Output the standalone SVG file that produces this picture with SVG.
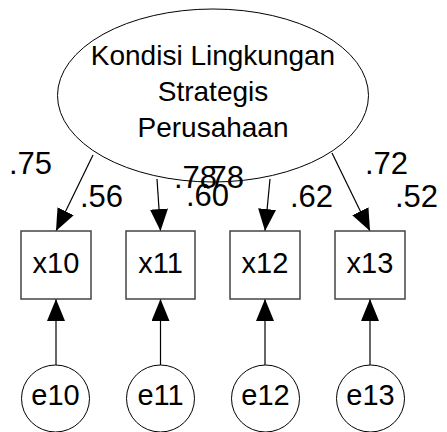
<svg xmlns="http://www.w3.org/2000/svg" width="447" height="432" viewBox="0 0 447 432">
  <defs>
    <marker id="arrow" markerUnits="userSpaceOnUse" markerWidth="22" markerHeight="18" refX="22" refY="9" orient="auto">
      <path d="M0,0 L22,9 L0,18 z" fill="#000"/>
    </marker>
    <style>
      text { font-family: "Liberation Sans", Arial, sans-serif; fill: #000; }
      .latent { fill: #fff; stroke: #000; stroke-width: 1; }
      .box { fill: #fff; stroke: #444; stroke-width: 1.5; }
      .err { fill: #fff; stroke: #000; stroke-width: 1; }
      .name { font-size: 28px; text-anchor: middle; }
      .vname { font-size: 29px; text-anchor: middle; }
      .coef { font-size: 31px; }
      .conn line { stroke: #000; stroke-width: 1.2; marker-end: url(#arrow); }
    </style>
  </defs>

  <rect width="447" height="432" fill="#fff"/>

  <!-- paths from latent factor and error terms -->
  <g id="connectors" class="conn">
    <line x1="93" y1="155" x2="56" y2="231"/>
    <line x1="157" y1="179" x2="160.5" y2="231"/>
    <line x1="270" y1="179" x2="265" y2="231"/>
    <line x1="332" y1="153" x2="370" y2="231"/>
    <line x1="56" y1="365" x2="56" y2="299"/>
    <line x1="160.5" y1="365" x2="160.5" y2="299"/>
    <line x1="265" y1="365" x2="265" y2="299"/>
    <line x1="370" y1="365" x2="370" y2="299"/>
  </g>

  <!-- latent factor -->
  <g id="kondisi">
    <ellipse class="latent" cx="213" cy="95.5" rx="155.5" ry="86.5"/>
    <text class="name" x="213" y="65">Kondisi Lingkungan</text>
    <text class="name" x="213" y="101">Strategis</text>
    <text class="name" x="213" y="137">Perusahaan</text>
  </g>

  <!-- observed indicators -->
  <g id="x10">
    <rect class="box" x="21" y="231" width="70" height="68"/>
    <text class="vname" x="56" y="273">x10</text>
  </g>
  <g id="x11">
    <rect class="box" x="126" y="231" width="69" height="68"/>
    <text class="vname" x="160.5" y="273">x11</text>
  </g>
  <g id="x12">
    <rect class="box" x="230" y="231" width="70" height="68"/>
    <text class="vname" x="265" y="273">x12</text>
  </g>
  <g id="x13">
    <rect class="box" x="335" y="231" width="70" height="68"/>
    <text class="vname" x="370" y="273">x13</text>
  </g>

  <!-- error terms -->
  <g id="e10">
    <ellipse class="err" cx="55.5" cy="398.5" rx="34" ry="33.5"/>
    <text class="vname" x="55.5" y="405">e10</text>
  </g>
  <g id="e11">
    <ellipse class="err" cx="160.5" cy="398.5" rx="34" ry="33.5"/>
    <text class="vname" x="160.5" y="405">e11</text>
  </g>
  <g id="e12">
    <ellipse class="err" cx="265.5" cy="398.5" rx="34" ry="33.5"/>
    <text class="vname" x="265.5" y="405">e12</text>
  </g>
  <g id="e13">
    <ellipse class="err" cx="370.5" cy="398.5" rx="34" ry="33.5"/>
    <text class="vname" x="370.5" y="405">e13</text>
  </g>

  <!-- standardized loadings and squared multiple correlations -->
  <g id="estimates">
    <text class="coef" x="9" y="174">.75</text>
    <text class="coef" x="80" y="207">.56</text>
    <text class="coef" x="174" y="188">.78</text>
    <text class="coef" x="201" y="188">.78</text>
    <text class="coef" x="186" y="206">.60</text>
    <text class="coef" x="290" y="207">.62</text>
    <text class="coef" x="365" y="174">.72</text>
    <text class="coef" x="395" y="207">.52</text>
  </g>
</svg>
